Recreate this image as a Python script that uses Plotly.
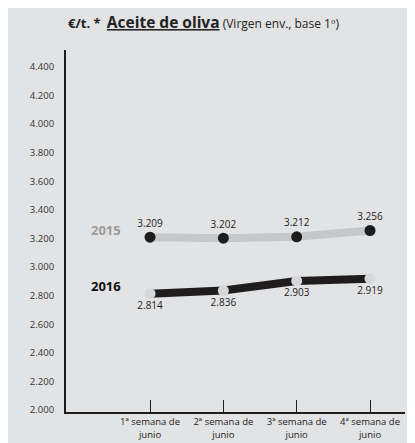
import plotly.graph_objects as go

categories = ["1ª semana de<br>junio", "2ª semana de<br>junio", "3ª semana de<br>junio", "4ª semana de<br>junio"]
x_pos = [1, 2, 3, 4]
values_2015 = [3209, 3202, 3212, 3256]
values_2016 = [2814, 2836, 2903, 2919]
y_ticks = [2000, 2200, 2400, 2600, 2800, 3000, 3200, 3400, 3600, 3800, 4000, 4200, 4400]

BG = "#e2e3e4"
DARK = "#1f1c1d"
LIGHT = "#c6c7c8"
FONT = "Open Sans"

OFF = 8  # page body margin
W, H = 415 - OFF, 443 - OFF
ML, MR, MT, MB = 66 - OFF, 10, 50 - OFF, 31
PW, PH = W - ML - MR, H - MT - MB


def px_x(p):  # page pixel -> paper x
    return (p - OFF - ML) / PW


def px_y(p):  # page pixel -> paper y
    return 1 - (p - OFF - MT) / PH


fig = go.Figure()
fig.add_trace(go.Scatter(
    x=x_pos, y=values_2015, mode="lines+markers+text",
    line=dict(color=LIGHT, width=8),
    marker=dict(color=DARK, size=11),
    text=values_2015, texttemplate="%{y:,}", textposition="top center",
    textfont=dict(size=10, color="#222", family=FONT),
    showlegend=False, cliponaxis=False))
fig.add_trace(go.Scatter(
    x=x_pos, y=values_2016, mode="lines+markers+text",
    line=dict(color=DARK, width=8),
    marker=dict(color="#d6d7d8", size=11),
    text=values_2016, texttemplate="%{y:,}", textposition="bottom center",
    textfont=dict(size=10, color="#222", family=FONT),
    showlegend=False, cliponaxis=False))

fig.add_annotation(x=0.4, y=values_2015[0], xref="x", yref="y", text="<b>2015</b>",
                   showarrow=False, yshift=7, font=dict(size=13, color="#9a9b9c", family=FONT))
fig.add_annotation(x=0.4, y=values_2016[0], xref="x", yref="y", text="<b>2016</b>",
                   showarrow=False, yshift=8, font=dict(size=13, color="#111", family=FONT))

fig.add_annotation(
    x=px_x(203), y=px_y(22), xref="paper", yref="paper", showarrow=False,
    xanchor="center", yanchor="middle",
    text="<span style='font-size:13px'><b>€/t. *</b></span>  <span style='font-size:15.5px'><b><u>Aceite de oliva</u></b></span> (Virgen env., base 1º)",
    font=dict(size=12, color="#222", family=FONT))

fig.update_layout(
    width=W, height=H,
    margin=dict(l=ML, r=MR, t=MT, b=MB),
    paper_bgcolor=BG, plot_bgcolor=BG,
    separators=",.",
    font=dict(family=FONT, size=9, color="#333"),
    xaxis=dict(range=[-0.146, 4.477], tickvals=x_pos, ticktext=categories, automargin=False,
               showgrid=False, zeroline=False, showline=True, linecolor=DARK, linewidth=2,
               ticks="inside", ticklen=12, tickwidth=1.2, tickcolor=DARK,
               tickfont=dict(size=9.5, color="#222")),
    yaxis=dict(range=[1986, 4519], tickvals=y_ticks, tickformat=",d", automargin=False,
               showgrid=False, zeroline=False, showline=True, linecolor=DARK, linewidth=2,
               ticks="", ticklabelstandoff=8, tickfont=dict(size=9.5, color="#333")),
)

fig.write_html("out.html")
